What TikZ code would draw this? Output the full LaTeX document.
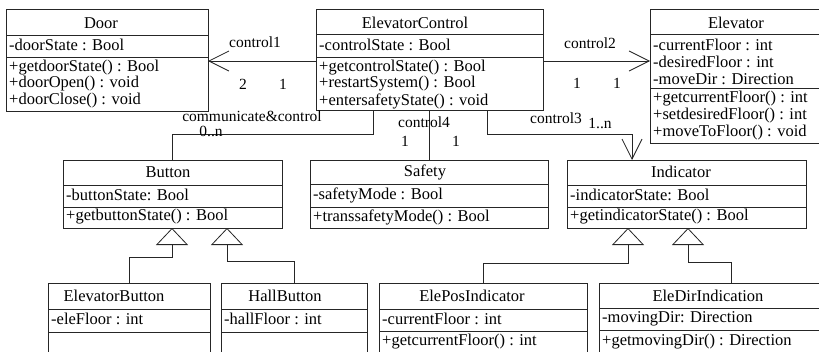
\documentclass[tikz,border=0pt]{standalone}
\usepackage{fontspec}
\setmainfont{Liberation Serif}
\usetikzlibrary{arrows.meta}
\tikzset{
  boxst/.style={draw=black!85, line width=0.8pt, inner sep=0pt, outer sep=0pt},
  divst/.style={draw=black!85, line width=0.8pt},
  titlest/.style={inner sep=0pt, font=\fontsize{16.5}{16.5}\selectfont},
  itemst/.style={anchor=west, inner xsep=3pt, inner ysep=0pt, font=\fontsize{16.5}{16.5}\selectfont},
  lblst/.style={inner sep=0pt, font=\fontsize{15.5}{15.5}\selectfont},
  linkst/.style={draw=black!85, line width=0.8pt},
  assocst/.style={linkst, -{Straight Barb[length=20pt,width=20pt]}},
  genst/.style={linkst, -{Triangle[open,length=17pt,width=32pt]}},
}
\newcommand\umlbox[5]{\node[boxst, minimum width={#4-#2}, minimum height={#5-#3}, anchor=north west] (#1) at (#2,#3) {};}
\newcommand\umldiv[2]{\draw[divst] (#1.west |- 0,#2) -- (#1.east |- 0,#2);}
\begin{document}
\begin{tikzpicture}[x=1pt,y=-1pt]
\useasboundingbox (0,0) rectangle (819,351);
\clip (0,0) rectangle (819,351);

% ---------- Door
\umlbox{door}{6}{9}{208}{111}
\umldiv{door}{35}\umldiv{door}{57}
\node[titlest] (door-t) at (101,23) {Door};
\node[itemst] (door-a1) at (door.west |- 0,45) {-doorState : Bool};
\node[itemst] (door-m1) at (door.west |- 0,68) {+getdoorState() : Bool};
\node[itemst] (door-m2) at (door.west |- 0,84) {+doorOpen() : void};
\node[itemst] (door-m3) at (door.west |- 0,101) {+doorClose() : void};

% ---------- ElevatorControl
\umlbox{ctrl}{316}{9}{543}{110}
\umldiv{ctrl}{34}\umldiv{ctrl}{57}
\node[titlest] (ctrl-t) at (415,23) {ElevatorControl};
\node[itemst] (ctrl-a1) at (ctrl.west |- 0,45) {-controlState : Bool};
\node[itemst] (ctrl-m1) at (ctrl.west |- 0,68) {+getcontrolState() :  Bool};
\node[itemst] (ctrl-m2) at (ctrl.west |- 0,84) {+restartSystem() : Bool};
\node[itemst] (ctrl-m3) at (ctrl.west |- 0,101) {+entersafetyState() : void};

% ---------- Elevator
\umlbox{elev}{650}{9}{830}{143}
\umldiv{elev}{34}\umldiv{elev}{88}
\node[titlest] (elev-t) at (736,23) {Elevator};
\node[itemst] (elev-a1) at (elev.west |- 0,45) {-currentFloor : int};
\node[itemst] (elev-a2) at (elev.west |- 0,62) {-desiredFloor : int};
\node[itemst] (elev-a3) at (elev.west |- 0,79) {-moveDir : Direction};
\node[itemst] (elev-m1) at (elev.west |- 0,99) {+getcurrentFloor() : int};
\node[itemst] (elev-m2) at (elev.west |- 0,116) {+setdesiredFloor() : int};
\node[itemst] (elev-m3) at (elev.west |- 0,133) {+moveToFloor() : void};

% ---------- Button
\umlbox{button}{63}{160}{282}{228}
\umldiv{button}{185}\umldiv{button}{207}
\node[titlest] (button-t) at (168,172) {Button};
\node[itemst] (button-a1) at (button.west |- 0,195) {-buttonState: Bool};
\node[itemst] (button-m1) at (button.west |- 0,217) {+getbuttonState() : Bool};

% ---------- Safety
\umlbox{safety}{310}{160}{548}{228}
\umldiv{safety}{184}\umldiv{safety}{207}
\node[titlest] (safety-t) at (425,172) {Safety};
\node[itemst] (safety-a1) at (safety.west |- 0,195) {-safetyMode : Bool};
\node[itemst] (safety-m1) at (safety.west |- 0,217) {+transsafetyMode() :  Bool};

% ---------- Indicator
\umlbox{ind}{567}{160}{806}{228}
\umldiv{ind}{185}\umldiv{ind}{207}
\node[titlest] (ind-t) at (681,172) {Indicator};
\node[itemst] (ind-a1) at (ind.west |- 0,195) {-indicatorState: Bool};
\node[itemst] (ind-m1) at (ind.west |- 0,217) {+getindicatorState() : Bool};

% ---------- bottom row
\umlbox{ebtn}{48}{283}{210}{362}
\umldiv{ebtn}{309}\umldiv{ebtn}{332}
\node[titlest] (ebtn-t) at (114,296) {ElevatorButton};
\node[itemst] (ebtn-a1) at (ebtn.west |- 0,319) {-eleFloor : int};

\umlbox{hbtn}{221}{283}{367}{362}
\umldiv{hbtn}{309}\umldiv{hbtn}{332}
\node[titlest] (hbtn-t) at (285,296) {HallButton};
\node[itemst] (hbtn-a1) at (hbtn.west |- 0,319) {-hallFloor : int};

\umlbox{epos}{379}{283}{587}{362}
\umldiv{epos}{309}\umldiv{epos}{331}
\node[titlest] (epos-t) at (472,296) {ElePosIndicator};
\node[itemst] (epos-a1) at (epos.west |- 0,319) {-currentFloor : int};
\node[itemst] (epos-m1) at (epos.west |- 0,342) {+getcurrentFloor() : int};

\umlbox{edir}{599}{283}{830}{362}
\umldiv{edir}{308}\umldiv{edir}{330}
\node[titlest] (edir-t) at (708,296) {EleDirIndication};
\node[itemst] (edir-a1) at (edir.west |- 0,319) {-movingDir: Direction};
\node[itemst] (edir-m1) at (edir.west |- 0,342) {+getmovingDir() : Direction};

% ---------- helper coordinates
\coordinate (yassoc) at (0,61);
\coordinate (commx) at (373,0);
\coordinate (commturn) at (172,134);
\coordinate (c3x) at (487,0);
\coordinate (c3turn) at (632,134);
\coordinate (g1turn) at (172,257);
\coordinate (g2turn) at (227,261);
\coordinate (g3turn) at (628,263);
\coordinate (g4x) at (731,0);
\coordinate (g4turn) at (688,262);

% ---------- associations
\draw[assocst] (ctrl.west |- yassoc) -- (door.east |- yassoc);
\draw[assocst] (ctrl.east |- yassoc) -- (elev.west |- yassoc);
\draw[linkst] (ctrl.south -| commx) |- (commturn) -- (button.north -| commturn);
\draw[linkst] (ctrl.south -| safety.north) -- (safety.north);
\draw[assocst] (ctrl.south -| c3x) |- (c3turn) -- (ind.north -| c3turn);

% ---------- generalizations
\draw[genst] (ebtn.north) |- (g1turn) -- (button.south -| g1turn);
\draw[genst] (hbtn.north) |- (g2turn) -- (button.south -| g2turn);
\draw[genst] (epos.north) |- (g3turn) -- (ind.south -| g3turn);
\draw[genst] (edir.north -| g4x) |- (g4turn) -- (ind.south -| g4turn);

% ---------- labels
\node[lblst] (l-c1) at (255,42) {control1};
\node[lblst] (l-c1a) at (243,84) {2};
\node[lblst] (l-c1b) at (283,84) {1};
\node[lblst] (l-c2) at (590,43) {control2};
\node[lblst] (l-c2a) at (577,83) {1};
\node[lblst] (l-c2b) at (617,83) {1};
\node[lblst] (l-cc) at (252,116) {communicate\&control};
\node[lblst] (l-cca) at (211,131) {0..n};
\node[lblst] (l-c4) at (424,122) {control4};
\node[lblst] (l-c4a) at (405,141) {1};
\node[lblst] (l-c4b) at (456,141) {1};
\node[lblst] (l-c3) at (556,118) {control3};
\node[lblst] (l-c3a) at (600,123) {1..n};
\end{tikzpicture}
\end{document}
